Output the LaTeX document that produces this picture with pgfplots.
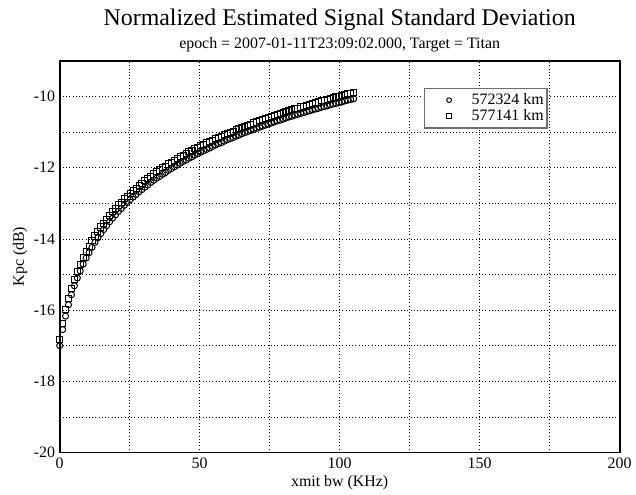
\documentclass[border=0pt]{standalone}
\usepackage{fontspec}
\setmainfont{Liberation Serif}
\usepackage{pgfplots}
\usepackage{pgfplotstable}
\pgfplotsset{compat=1.18}

\pgfplotstableread{
x ci sq
0 -17.00 -16.82
1.05 -16.55 -16.37
2.1 -16.17 -15.99
3.15 -15.85 -15.67
4.2 -15.57 -15.39
5.25 -15.32 -15.14
6.3 -15.10 -14.92
7.35 -14.90 -14.72
8.4 -14.71 -14.53
9.45 -14.54 -14.36
10.5 -14.39 -14.21
11.55 -14.24 -14.06
12.6 -14.10 -13.92
13.65 -13.97 -13.79
14.7 -13.85 -13.67
15.75 -13.74 -13.56
16.8 -13.63 -13.45
17.85 -13.52 -13.34
18.9 -13.42 -13.24
19.95 -13.33 -13.15
21 -13.23 -13.05
22.05 -13.15 -12.97
23.1 -13.06 -12.88
24.15 -12.98 -12.80
25.2 -12.90 -12.72
26.25 -12.83 -12.65
27.3 -12.76 -12.58
28.35 -12.68 -12.50
29.4 -12.62 -12.44
30.45 -12.55 -12.37
31.5 -12.49 -12.31
32.55 -12.42 -12.24
33.6 -12.36 -12.18
34.65 -12.30 -12.12
35.7 -12.25 -12.07
36.75 -12.19 -12.01
37.8 -12.14 -11.96
38.85 -12.08 -11.90
39.9 -12.03 -11.85
40.95 -11.98 -11.80
42 -11.93 -11.75
43.05 -11.88 -11.70
44.1 -11.83 -11.65
45.15 -11.79 -11.61
46.2 -11.74 -11.56
47.25 -11.70 -11.52
48.3 -11.65 -11.47
49.35 -11.61 -11.43
50.4 -11.57 -11.39
51.45 -11.53 -11.35
52.5 -11.49 -11.31
53.55 -11.45 -11.27
54.6 -11.41 -11.23
55.65 -11.37 -11.19
56.7 -11.33 -11.15
57.75 -11.30 -11.12
58.8 -11.26 -11.08
59.85 -11.22 -11.04
60.9 -11.19 -11.01
61.95 -11.16 -10.98
63 -11.12 -10.94
64.05 -11.09 -10.91
65.1 -11.05 -10.87
66.15 -11.02 -10.84
67.2 -10.99 -10.81
68.25 -10.96 -10.78
69.3 -10.93 -10.75
70.35 -10.90 -10.72
71.4 -10.87 -10.69
72.45 -10.84 -10.66
73.5 -10.81 -10.63
74.55 -10.78 -10.60
75.6 -10.75 -10.57
76.65 -10.72 -10.54
77.7 -10.69 -10.51
78.75 -10.67 -10.49
79.8 -10.64 -10.46
80.85 -10.61 -10.43
81.9 -10.58 -10.40
82.95 -10.56 -10.38
84 -10.53 -10.35
85.05 -10.51 -10.33
86.1 -10.48 -10.30
87.15 -10.46 -10.28
88.2 -10.43 -10.25
89.25 -10.41 -10.23
90.3 -10.38 -10.20
91.35 -10.36 -10.18
92.4 -10.34 -10.16
93.45 -10.31 -10.13
94.5 -10.29 -10.11
95.55 -10.27 -10.09
96.6 -10.24 -10.06
97.65 -10.22 -10.04
98.7 -10.20 -10.02
99.75 -10.18 -10.00
100.8 -10.16 -9.98
101.85 -10.13 -9.95
102.9 -10.11 -9.93
103.95 -10.09 -9.91
105 -10.07 -9.89
}\datatable

\definecolor{legframe}{RGB}{110,110,110}

\begin{document}
\begin{tikzpicture}
\begin{axis}[
  name=ax,
  scale only axis,
  width=422.25pt, height=295.5pt,
  xmin=0, xmax=200, ymin=-20, ymax=-9,
  xtick={0,50,100,150,200}, xticklabels={0,50,100,150,200},
  minor xtick={25,75,125,175},
  ytick={-20,-18,-16,-14,-12,-10}, yticklabels={-20,-18,-16,-14,-12,-10},
  minor ytick={-19,-17,-15,-13,-11},
  grid=both,
  major grid style={black, line width=0.45pt, dash pattern=on 0.45pt off 2pt},
  minor grid style={black, line width=0.45pt, dash pattern=on 0.45pt off 2pt},
  major tick length=0pt, minor tick length=0pt,
  axis line style={line width=1.3pt},
  tick label style={font=\fontsize{12}{14}\selectfont},
  xticklabel style={anchor=base, yshift=-12pt},
  clip=false,
  legend style={
    at={(0.6501,0.9315)}, anchor=north west,
    draw=legframe, line width=1.1pt,
    inner xsep=1.6pt, inner ysep=3pt,
    font=\fontsize{12}{12}\selectfont,
    nodes={text height=8.5pt, text depth=1.5pt, inner sep=1pt},
    row sep=0pt, column sep=0pt,
  },
  legend cell align=left,
  legend image code/.code={
    \path[draw=none, fill=none] (0pt,0pt) -- (33pt,0pt);
    \draw[#1, only marks, mark size=1.8pt, line width=0.55pt] plot coordinates {(17pt,0pt)};
  },
]
\addplot[only marks, mark=o, black, mark size=2.3pt, mark options={line width=0.75pt}]
  table[x=x, y=ci] {\datatable};
\addlegendentry{572324 km}
\addplot[only marks, mark=square, black, mark size=2.3pt, mark options={line width=0.75pt}]
  table[x=x, y=sq] {\datatable};
\addlegendentry{577141 km}
\end{axis}
\node[anchor=base, font=\fontsize{18}{20}\selectfont] at ([yshift=26.25pt]ax.north) {Normalized Estimated Signal Standard Deviation};
\node[anchor=base, font=\fontsize{12}{14}\selectfont] at ([yshift=9pt]ax.north) {epoch = 2007-01-11T23:09:02.000, Target = Titan};
\node[anchor=base, font=\fontsize{12}{14}\selectfont] at ([yshift=-25.5pt]ax.south) {xmit bw (KHz)};
\node[anchor=base, rotate=90, font=\fontsize{12}{14}\selectfont] at ([xshift=-27pt]ax.west) {Kpc (dB)};
\useasboundingbox (-45pt,-31.5pt) rectangle (432pt,341.25pt);
\end{tikzpicture}
\end{document}
